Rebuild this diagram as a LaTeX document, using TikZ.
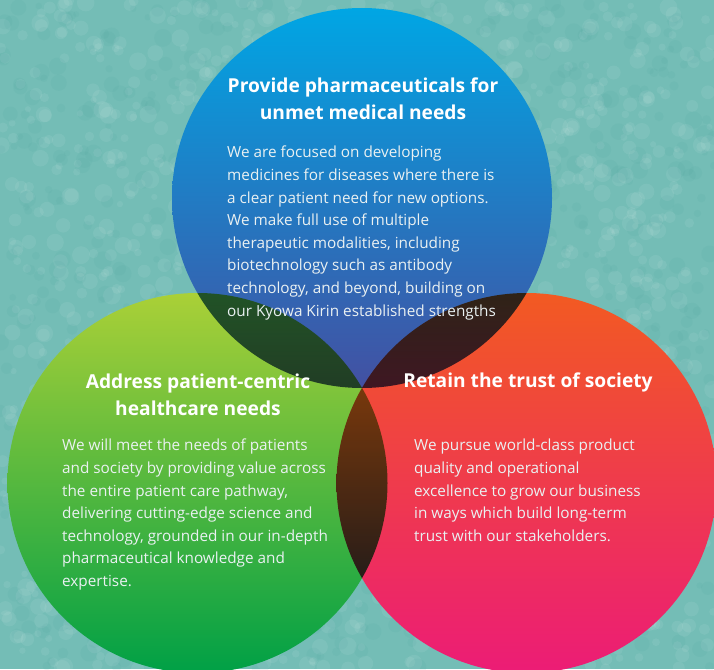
\documentclass[tikz,border=0pt]{standalone}
\usepackage{fontspec}
\setmainfont{Open Sans}
\definecolor{sea}{HTML}{74BDB6}
\definecolor{seaDark}{HTML}{3E9A96}
\definecolor{blueTop}{HTML}{00A6E4}
\definecolor{blueBot}{HTML}{4350A2}
\definecolor{greenTop}{HTML}{AAD037}
\definecolor{greenBot}{HTML}{00A046}
\definecolor{redTop}{HTML}{F25A22}
\definecolor{redBot}{HTML}{EC1C76}
\definecolor{paleText}{HTML}{EAF1F2}
\begin{document}
\begin{tikzpicture}[x=1pt, y=-1pt,
    heading/.style={font=\fontsize{19.2}{27}\selectfont\bfseries, text=white, align=center, inner sep=0pt},
    body/.style={font=\fontsize{15.3}{22.6}\selectfont, text=paleText, align=left, anchor=north west, inner sep=0pt}]
    % Sfondo
    \fill[sea] (0,0) rectangle (714,669);
    \useasboundingbox (0,0) rectangle (714,669);
    \pgfmathsetseed{7}
    \foreach \i in {1,...,1400}
        \fill[white, opacity=0.07] (714*rnd,669*rnd) circle[radius={(3+6*rnd)*1pt}];
    \foreach \i in {1,...,900}
        \fill[seaDark, opacity=0.08] (714*rnd,669*rnd) circle[radius={(3+6*rnd)*1pt}];

    % Centri
    \coordinate (M) at (362,388);
    \coordinate (T) at (362,198);
    \coordinate (L) at (197.5,483);
    \coordinate (R) at (526.5,483);

    % Cerchi
    \begin{scope}[blend group=multiply]
        \shade[top color=blueTop, bottom color=blueBot] (T) circle (190pt);
        \shade[top color=greenTop, bottom color=greenBot] (L) circle (190pt);
        \shade[top color=redTop, bottom color=redBot] (R) circle (190pt);
    \end{scope}

    % Titoli
    \node[heading] (topHead) at (363,99) {Provide pharmaceuticals for\\unmet medical needs};
    \node[heading] (leftHead) at (198,395) {Address patient-centric\\healthcare needs};
    \node[heading] (rightHead) at (528,382) {Retain the trust of society};

    % Testi
    \node[body] (topText) at (227,146) {We are focused on developing\\medicines for diseases where there is\\a clear patient need for new options.\\We make full use of multiple\\therapeutic modalities, including\\biotechnology such as antibody\\technology, and beyond, building on\\our Kyowa Kirin established strengths};
    \node[body] (leftText) at (62,439) {We will meet the needs of patients\\and society by providing value across\\the entire patient care pathway,\\delivering cutting-edge science and\\technology, grounded in our in-depth\\pharmaceutical knowledge and\\expertise.};
    \node[body] (rightText) at (414,439) {We pursue world-class product\\quality and operational\\excellence to grow our business\\in ways which build long-term\\trust with our stakeholders.};
\end{tikzpicture}
\end{document}
